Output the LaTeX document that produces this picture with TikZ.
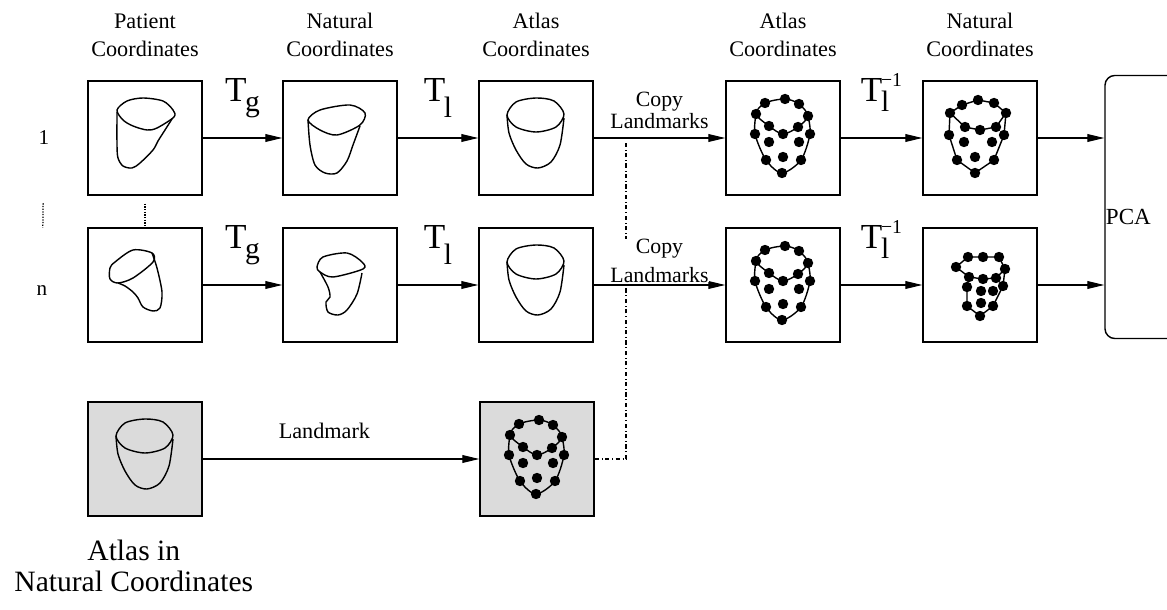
\documentclass[tikz,border=0pt]{standalone}
\usepackage{fontspec}
\setmainfont{Liberation Serif}
\usetikzlibrary{arrows.meta,positioning}

% plain atlas heart around the point #1
\newcommand{\atlasheart}[1]{%
  \begin{scope}[shift={(#1)}]
    \draw[heart] plot[smooth cycle] coordinates {(-29,-23) (-20,-36) (0,-40) (18,-37) (28,-24) (20,-11) (0,-6) (-20,-11)};
    \draw[heart] plot[smooth] coordinates {(-29,-23) (-27,-5) (-20,12) (-10,26) (2,30) (15,24) (24,7) (28,-20)};
  \end{scope}}
% atlas heart with its 16 landmarks
\newcommand{\atlasmarks}[1]{%
  \begin{scope}[shift={(#1)}]
    \draw[heart] plot[smooth cycle] coordinates {(-27,-24) (-18,-35) (2,-39) (16,-34) (25,-22) (15,-11) (0,-4) (-14,-12)};
    \draw[heart] plot[smooth] coordinates {(-27,-24) (-28,-4) (-17,22) (-1,35) (18,22) (27,-4) (25,-22)};
    \foreach \p in {(-27,-24),(-18,-35),(2,-39),(16,-34),(25,-22),(15,-11),(0,-4),(-14,-12),
                    (-28,-4),(27,-4),(-14,4),(16,4),(0,19),(-17,22),(18,22),(-1,35)}
      \fill \p circle[radius=3.7pt];
  \end{scope}}
% transform names
\newcommand{\Tsub}[2][-0.28em]{T\kern-0.04em\raisebox{#1}{\fontsize{21}{21}\selectfont #2}}
\newcommand{\Tinv}{T\kern-0.04em\rlap{\raisebox{-0.3em}{\fontsize{21}{21}\selectfont l}}\raisebox{0.42em}{\fontsize{14}{14}\selectfont −1}}

\begin{document}
\begin{tikzpicture}[x=0.025cm, y=-0.025cm,
    panel/.style={draw, line width=1pt, minimum size=2.85cm, inner sep=0pt},
    atlaspanel/.style={panel, fill=black!14},
    heart/.style={line width=1pt},
    arr/.style={-{Triangle[length=12pt,width=5.5pt]}, line width=0.8pt},
    colhead/.style={align=center, inner sep=0pt, font=\fontsize{15.8}{19.9}\selectfont},
    maplab/.style={anchor=base, yshift=0.92cm, inner sep=0pt, font=\fontsize{25}{25}\selectfont},
    copylab/.style={align=center, anchor=south, inner sep=0pt, font=\fontsize{15.5}{15.6}\selectfont},
    rowlab/.style={inner sep=0pt, font=\fontsize{15}{15}\selectfont},
    dotlink/.style={densely dotted, line width=0.9pt},
    tapline/.style={dashdotted, line width=0.9pt}]
    \useasboundingbox (0,0) rectangle (1167,610);

    % row 1
    \node[panel] (p1) at (145,138) {};
    \node[panel] (nat1) at (340,138) {};
    \node[panel] (atl1) at (536,138) {};
    \node[panel] (atlm1) at (783,138) {};
    \node[panel] (natm1) at (980,138) {};
    % row n
    \node[panel] (pn) at (145,285) {};
    \node[panel] (natn) at (340,285) {};
    \node[panel] (atln) at (536,285) {};
    \node[panel] (atlmn) at (783,285) {};
    \node[panel] (natmn) at (980,285) {};
    % atlas row
    \node[atlaspanel] (atlas) at (145,459) {};
    \node[atlaspanel] (atlasm) at (537,459) {};
    % PCA
    \node[draw, line width=1pt, rounded corners=7pt, minimum width=2.75cm, minimum height=6.575cm] (pca) at (1160,207) {};
    \node[anchor=west, inner sep=1pt, font=\fontsize{16.4}{16.4}\selectfont] (pcatxt) at ([yshift=-0.25cm]pca.west) {PCA};

    % column titles
    \node[colhead, above=0.58cm of p1] (hp1) {Patient\\Coordinates};
    \node[colhead, above=0.58cm of nat1] (hnat1) {Natural\\Coordinates};
    \node[colhead, above=0.58cm of atl1] (hatl1) {Atlas\\Coordinates};
    \node[colhead, above=0.58cm of atlm1] (hatlm1) {Atlas\\Coordinates};
    \node[colhead, above=0.58cm of natm1] (hnatm1) {Natural\\Coordinates};
    \node[align=center, inner sep=0pt, font=\fontsize{21}{22}\selectfont, below=0.58cm of atlas, xshift=-0.28cm] (hatlas) {Atlas in\\Natural Coordinates};

    % patients 1 ... n
    \node[rowlab] (one) at (44,138) {1};
    \node[rowlab] (nn) at (42,291) {n};
    \draw[dotlink, shorten <=1.45cm, shorten >=1.45cm] (one) -- (nn);
    \draw[dotlink, shorten <=0.2cm] (p1) -- (pn);

    % hearts, row 1
    \begin{scope}[shift={(p1)}]
      \draw[heart] plot[smooth cycle] coordinates {(-28,-28) (-18,-37) (-2,-40) (18,-37) (28,-28) (29,-21) (12,-10) (2,-8) (-12,-12) (-22,-18)};
      \draw[heart] plot[smooth] coordinates {(-28,-26) (-28,7) (-27,20) (-22,28) (-13,30) (-5,25) (8,12) (13,3) (20,-8) (27,-19)};
    \end{scope}
    \begin{scope}[shift={(nat1)}]
      \draw[heart] plot[smooth cycle] coordinates {(-32,-18) (-20,-28) (10,-33) (25,-25) (20,-13) (-3,-3) (-20,-8)};
      \draw[heart] plot[smooth] coordinates {(-32,-18) (-30,7) (-25,27) (-15,35) (-3,35) (7,23) (13,7) (20,-12)};
    \end{scope}
    \atlasheart{atl1}
    \atlasmarks{atlm1}
    \begin{scope}[shift={(natm1)}]
      \draw[heart] (-30,-25) -- (-18,-33) -- (-2,-38) -- (14,-35) -- (26,-25) -- (16,-11) -- (0,-8) -- (-15,-11) -- cycle;
      \draw[heart] (-30,-25) -- (-31,-3) -- (-23,22) -- (-5,35) -- (14,22) -- (24,-3) -- (26,-25);
      \foreach \p in {(-30,-25),(-18,-33),(-2,-38),(14,-35),(26,-25),(16,-11),(0,-8),(-15,-11),
                      (-31,-3),(24,-3),(-16,4),(12,4),(-23,22),(-5,19),(14,22),(-5,35)}
        \fill \p circle[radius=3.7pt];
    \end{scope}

    % hearts, row n
    \begin{scope}[shift={(pn)}]
      \draw[heart] plot[smooth cycle] coordinates {(-35,-17) (-30,-23) (-12,-35) (7,-32) (8,-23) (-12,-7) (-27,-2) (-35,-6)};
      \draw[heart] plot[smooth] coordinates {(7,-32) (12,-17) (17,7) (15,23) (8,26) (-2,22) (-7,13) (-12,7) (-20,1) (-27,-2)};
    \end{scope}
    \begin{scope}[shift={(natn)}]
      \draw[heart] plot[smooth cycle] coordinates {(-23,-18) (-17,-28) (7,-32) (22,-23) (23,-16) (-7,-8) (-20,-13)};
      \draw[heart] plot[smooth] coordinates {(-20,-13) (-12,2) (-10,12) (-14,17) (-12,27) (-2,30) (7,25) (17,9) (22,-12)};
    \end{scope}
    \atlasheart{atln}
    \atlasmarks{atlmn}
    \begin{scope}[shift={(natmn)}]
      \draw[heart] (-24,-18) -- (-12,-28) -- (3,-28) -- (19,-28) -- (25,-16) -- (16,-7) -- (3,-6) -- (-11,-8) -- cycle;
      \draw[heart] (-11,-8) -- (-13,2) -- (-13,21) -- (0,31) -- (13,21) -- (23,1) -- (25,-16);
      \foreach \p in {(-24,-18),(-12,-28),(3,-28),(19,-28),(25,-16),(16,-7),(3,-6),(-11,-8),
                      (23,1),(-13,2),(1,6),(13,6),(1,18),(-13,21),(13,21),(0,31)}
        \fill \p circle[radius=3.7pt];
    \end{scope}

    % atlas row
    \atlasheart{atlas}
    \atlasmarks{atlasm}

    % landmarks copied from the atlas
    \coordinate (tap) at (626,140);
    \draw[tapline] (atlasm.east) -| (tap);

    % row 1 maps
    \draw[arr] (p1) -- node[maplab] {\Tsub{g}} (nat1);
    \draw[arr] (nat1) -- node[maplab] {\Tsub[-0.45em]{l}} (atl1);
    \draw[arr] (atl1) -- node[copylab, yshift=0.22cm] {Copy\\Landmarks} (atlm1);
    \draw[arr] (atlm1) -- node[maplab] {\Tinv} (natm1);
    \draw[arr] (natm1) -- (natm1 -| pca.west);
    % row n maps
    \draw[arr] (pn) -- node[maplab] {\Tsub{g}} (natn);
    \draw[arr] (natn) -- node[maplab] {\Tsub[-0.45em]{l}} (atln);
    \draw[arr] (atln) -- node[copylab, fill=white, yshift=0.05cm] {Copy\\[5pt]Landmarks} (atlmn);
    \draw[arr] (atlmn) -- node[maplab] {\Tinv} (natmn);
    \draw[arr] (natmn) -- (natmn -| pca.west);
    % atlas row
    \draw[arr] (atlas) -- node[pos=0.44, anchor=south, inner sep=0pt, yshift=0.5cm, font=\fontsize{15.8}{15.8}\selectfont] {Landmark} (atlasm);
\end{tikzpicture}
\end{document}
